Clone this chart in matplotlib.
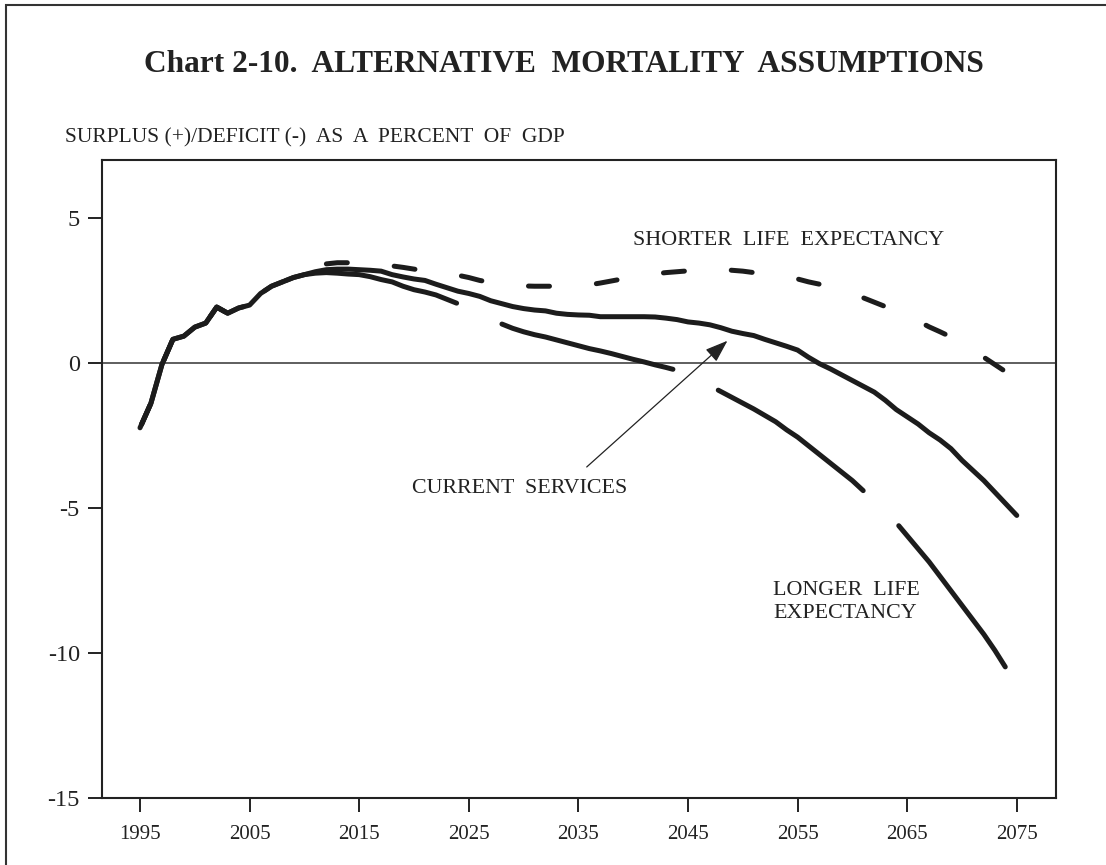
import matplotlib
matplotlib.use('Agg')
import matplotlib.pyplot as plt
import numpy as np
from matplotlib.patches import Rectangle

# dados (% do PIB)
anos_base = list(range(1995, 2011))
valores_base = [-2.23, -1.38, -0.05, 0.82, 0.93, 1.24, 1.38, 1.93, 1.72, 1.9,
                2.0, 2.4, 2.65, 2.8, 2.95, 3.05]

anos_atual = list(range(1995, 2076))
valores_atual = valores_base + [
    3.15, 3.22, 3.24, 3.24, 3.22, 3.2, 3.17, 3.05, 2.97, 2.9,
    2.85, 2.72, 2.6, 2.48, 2.4, 2.3, 2.15, 2.05, 1.95, 1.88,
    1.83, 1.8, 1.72, 1.68, 1.66, 1.65, 1.6, 1.6, 1.6, 1.6,
    1.6, 1.59, 1.55, 1.5, 1.42, 1.38, 1.32, 1.22, 1.1, 1.02,
    0.95, 0.82, 0.7, 0.58, 0.45, 0.2, -0.02, -0.2, -0.4, -0.6,
    -0.8, -1.0, -1.28, -1.6, -1.85, -2.1, -2.4, -2.65, -2.95, -3.35,
    -3.7, -4.05, -4.45, -4.85, -5.25]

anos_curta = list(range(1995, 2075))
valores_curta = valores_base + [
    3.25, 3.42, 3.46, 3.46, 3.45, 3.42, 3.38, 3.35, 3.3, 3.24,
    3.18, 3.12, 3.06, 3.03, 2.95, 2.85, 2.78, 2.72, 2.68, 2.66,
    2.65, 2.65, 2.65, 2.66, 2.68, 2.7, 2.76, 2.83, 2.9, 2.95,
    3.02, 3.08, 3.12, 3.15, 3.18, 3.22, 3.23, 3.24, 3.2, 3.17,
    3.12, 3.07, 3.02, 2.97, 2.9, 2.8, 2.72, 2.62, 2.52, 2.4,
    2.25, 2.1, 1.95, 1.75, 1.6, 1.45, 1.25, 1.08, 0.9, 0.7,
    0.45, 0.2, -0.05, -0.3]

anos_longa = list(range(1995, 2075))
valores_longa = valores_base + [
    3.1, 3.12, 3.1, 3.07, 3.05, 2.98, 2.88, 2.8, 2.65, 2.53,
    2.45, 2.35, 2.2, 2.05, 1.9, 1.7, 1.55, 1.35, 1.2, 1.08,
    0.98, 0.9, 0.8, 0.7, 0.6, 0.5, 0.42, 0.33, 0.23, 0.13,
    0.04, -0.06, -0.15, -0.25, -0.42, -0.6, -0.78, -0.98, -1.18, -1.38,
    -1.58, -1.8, -2.02, -2.3, -2.55, -2.85, -3.15, -3.45, -3.75, -4.05,
    -4.4, -4.8, -5.15, -5.5, -5.95, -6.4, -6.85, -7.35, -7.85, -8.35,
    -8.85, -9.35, -9.9, -10.5]

anos_ticks = list(range(1995, 2076, 10))
valores_ticks = [-15, -10, -5, 0, 5]

plt.rcParams['font.family'] = ['Liberation Serif', 'DejaVu Serif']
plt.rcParams['lines.scale_dashes'] = False
plt.rcParams['axes.unicode_minus'] = False

PRETO = '#1c1c1c'
LW_PX = 5.0
PT = 0.72  # pontos por pixel a 100 dpi

fig = plt.figure(figsize=(11.06, 8.65), dpi=100)
ax = fig.add_axes([0.0922, 0.0771, 0.8626, 0.7379])
ax.set_xlim(1991.53, 2078.58)
ax.set_ylim(-15, 7)


def offset_tracejado(anos, valores, ano_fim, ligado_px, periodo_px):
    # acerta a fase para que um traco termine em ano_fim
    pts = ax.transData.transform(np.column_stack([anos, valores]))
    s = np.concatenate([[0], np.cumsum(np.hypot(*np.diff(pts, axis=0).T))])
    s_fim = np.interp(ano_fim, anos, s) - LW_PX / 2
    return ((ligado_px - s_fim) % periodo_px) * PT


lig_l, per_l = 177, 227
off_l = offset_tracejado(anos_longa, valores_longa, 2024.1, lig_l, per_l)
ax.plot(anos_longa, valores_longa, color=PRETO, lw=LW_PX * PT,
        linestyle=(off_l, (lig_l * PT, (per_l - lig_l) * PT)),
        dash_capstyle='round', solid_joinstyle='round')

lig_c, per_c = 21, 68
off_c = offset_tracejado(anos_curta, valores_curta, 2044.9, lig_c, per_c)
ax.plot(anos_curta, valores_curta, color=PRETO, lw=LW_PX * PT,
        linestyle=(off_c, (lig_c * PT, (per_c - lig_c) * PT)),
        dash_capstyle='round')

ax.plot(anos_atual, valores_atual, color=PRETO, lw=LW_PX * PT,
        solid_capstyle='round', solid_joinstyle='round')

ax.axhline(0, color='#333333', lw=1.1, zorder=1)

ax.set_xticks(anos_ticks)
ax.set_yticks(valores_ticks)
ax.tick_params(axis='both', direction='out', length=10, width=1.4,
               labelsize=15, colors='#222222')
ax.tick_params(axis='y', pad=6, labelsize=17.5)
ax.tick_params(axis='x', pad=9)
for sp in ax.spines.values():
    sp.set_linewidth(1.5)
    sp.set_color('#222222')

# rotulos
ax.text(2040.0, 4.21, 'SHORTER  LIFE  EXPECTANCY', fontsize=15.8,
        ha='left', va='center', color='#222222')
ax.text(2019.8, -4.32, 'CURRENT  SERVICES', fontsize=15.8,
        ha='left', va='center', color='#222222')
ax.text(2052.8, -8.23, 'LONGER  LIFE\nEXPECTANCY', fontsize=15.8,
        ha='left', va='center', linespacing=1.32, color='#222222')
ax.annotate('', xy=(2048.6, 0.77), xytext=(2035.76, -3.58),
            arrowprops=dict(arrowstyle='-|>,head_length=0.7,head_width=0.25',
                            mutation_scale=20, lw=0.9, color='#222222',
                            shrinkA=0, shrinkB=0))

fig.text(0.51, 1 - 65 / 865, 'Chart 2-10.  ALTERNATIVE  MORTALITY  ASSUMPTIONS',
         fontsize=22.6, weight='bold', ha='center', va='center', color='#222222')
fig.text(65 / 1106, 1 - 138 / 865, 'SURPLUS (+)/DEFICIT (-)  AS  A  PERCENT  OF  GDP',
         fontsize=15.5, ha='left', va='center', color='#222222')

# moldura da pagina
fig.add_artist(Rectangle((6 / 1106, -0.1), 1.2, 1.1 - 5 / 865,
                         transform=fig.transFigure, fill=False,
                         lw=1.5, edgecolor='#333333'))

fig.savefig('out.png', dpi=100)
